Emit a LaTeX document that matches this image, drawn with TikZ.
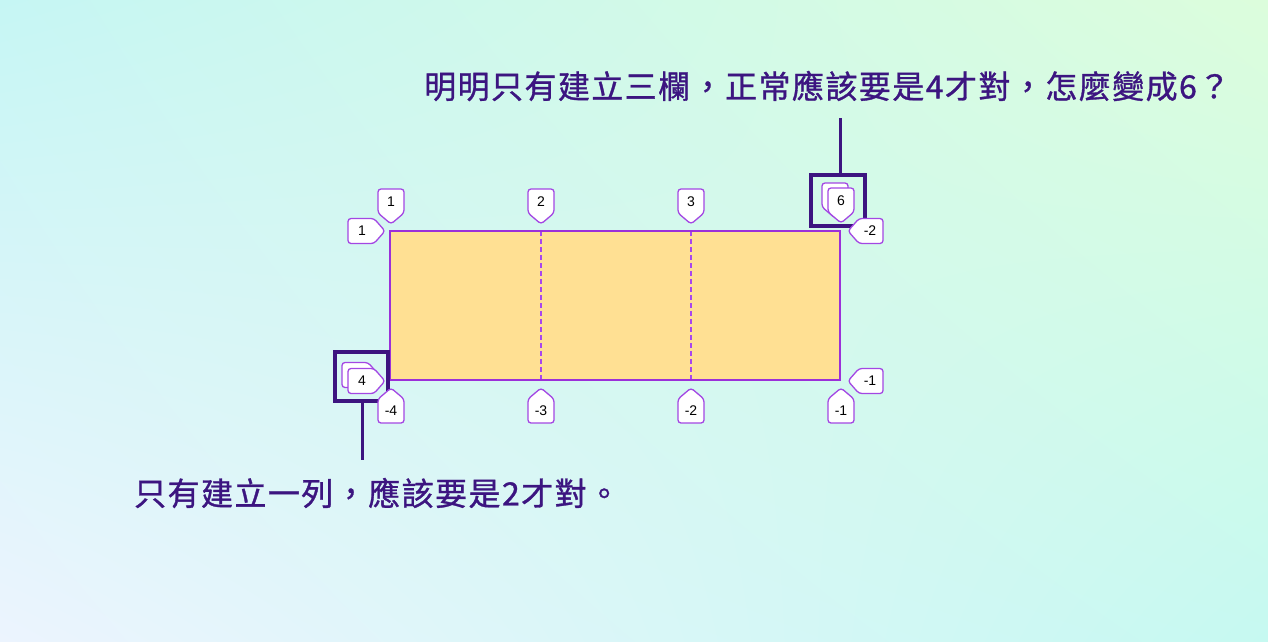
\documentclass[tikz,border=0pt]{standalone}
\usepackage{fontspec}
\usetikzlibrary{shadings}
\setmainfont{Liberation Sans}
\newfontfamily\cjk[LetterSpace=4.5, FakeBold=1]{Noto Sans CJK TC}
\definecolor{bgUL}{HTML}{C6F6F4}
\definecolor{bgUR}{HTML}{DCFDDC}
\definecolor{bgLL}{HTML}{ECF4FE}
\definecolor{bgLR}{HTML}{C6F9F1}
\definecolor{gridfill}{HTML}{FFE093}
\definecolor{gridline}{HTML}{9B30D9}
\definecolor{dashcol}{HTML}{A846EE}
\definecolor{tagline}{HTML}{A347E3}
\definecolor{hlcol}{HTML}{3D1480}
\definecolor{txtcol}{HTML}{3C1580}
\tikzset{
  tagshape/.style={draw=tagline, fill=white, line width=1.3pt, rounded corners=3pt},
  tagtext/.style={inner sep=0pt, font=\fontsize{14}{14}\selectfont, text=black},
  hlbox/.style={draw=hlcol, line width=4pt, inner sep=0pt},
  leader/.style={draw=hlcol, line width=3pt},
  gridsep/.style={draw=dashcol, line width=1.1pt, dash pattern=on 5pt off 3pt},
  note/.style={inner sep=0pt, anchor=west, text=txtcol, font=\cjk\fontsize{32}{32}\selectfont}
}
% tip at (#2,#3)
\newcommand\TagDown[4]{%
  \begin{scope}[shift={(#2,#3)}]
    \path[tagshape] (0,0) -- (-13,-11) -- (-13,-35) -- (13,-35) -- (13,-11) -- cycle;
    \node[tagtext] (#1) at (0,-22) {#4};
  \end{scope}}
\newcommand\TagUp[4]{%
  \begin{scope}[shift={(#2,#3)}]
    \path[tagshape] (0,0) -- (-13,11) -- (-13,35) -- (13,35) -- (13,11) -- cycle;
    \node[tagtext] (#1) at (0,23) {#4};
  \end{scope}}
\newcommand\TagRight[4]{%
  \begin{scope}[shift={(#2,#3)}]
    \path[tagshape] (0,0) -- (-11,-12.5) -- (-37,-12.5) -- (-37,12.5) -- (-11,12.5) -- cycle;
    \node[tagtext] (#1) at (-23,0) {#4};
  \end{scope}}
\newcommand\TagLeft[4]{%
  \begin{scope}[shift={(#2,#3)}]
    \path[tagshape] (0,0) -- (11,-12.5) -- (35,-12.5) -- (35,12.5) -- (11,12.5) -- cycle;
    \node[tagtext] (#1) at (22,0) {#4};
  \end{scope}}
\begin{document}
\begin{tikzpicture}[x=1pt,y=-1pt]
\useasboundingbox (0,0) rectangle (1268,641);
\shade[upper left=bgUL, upper right=bgUR, lower left=bgLL, lower right=bgLR] (0,641) rectangle (1268,0);

% grid
\path[fill=gridfill] (390,231) rectangle (840,380);
\draw[gridsep] (541,231) -- (541,380);
\draw[gridsep] (691,231) -- (691,380);
\draw[gridline, line width=1.3pt] (390,231) rectangle (840,380);

% highlight boxes
\node[hlbox, minimum width=54pt, minimum height=51pt] (hl6) at (838,200.5) {};
\node[hlbox, minimum width=53pt, minimum height=49pt] (hl4) at (361.5,376.5) {};

% tags
\TagDown{t1}{391}{224}{1}
\TagDown{t2}{541}{224}{2}
\TagDown{t3}{691}{224}{3}
\TagDown{t6b}{835}{218}{}
\TagDown{t6}{841}{223}{6}
\TagRight{l1}{385}{231}{1}
\TagRight{l4b}{379}{375}{}
\TagRight{l4}{385}{381}{4}
\TagLeft{r2}{848}{231}{-2}
\TagLeft{r1}{848}{381}{-1}
\TagUp{b4}{391}{388}{-4}
\TagUp{b3}{541}{388}{-3}
\TagUp{b2}{691}{388}{-2}
\TagUp{b1}{841}{388}{-1}

% notes
\node[note] (n6) at (424,86) {明明只有建立三欄，正常應該要是4才對，怎麼變成6？};
\node[note] (n4) at (134,493) {只有建立一列，應該要是2才對。};
\coordinate (c6) at (840,118);
\coordinate (c4) at (362,460);
\draw[leader] (c6) -- (c6 |- hl6.north);
\draw[leader] (c4 |- hl4.south) -- (c4);
\end{tikzpicture}
\end{document}
